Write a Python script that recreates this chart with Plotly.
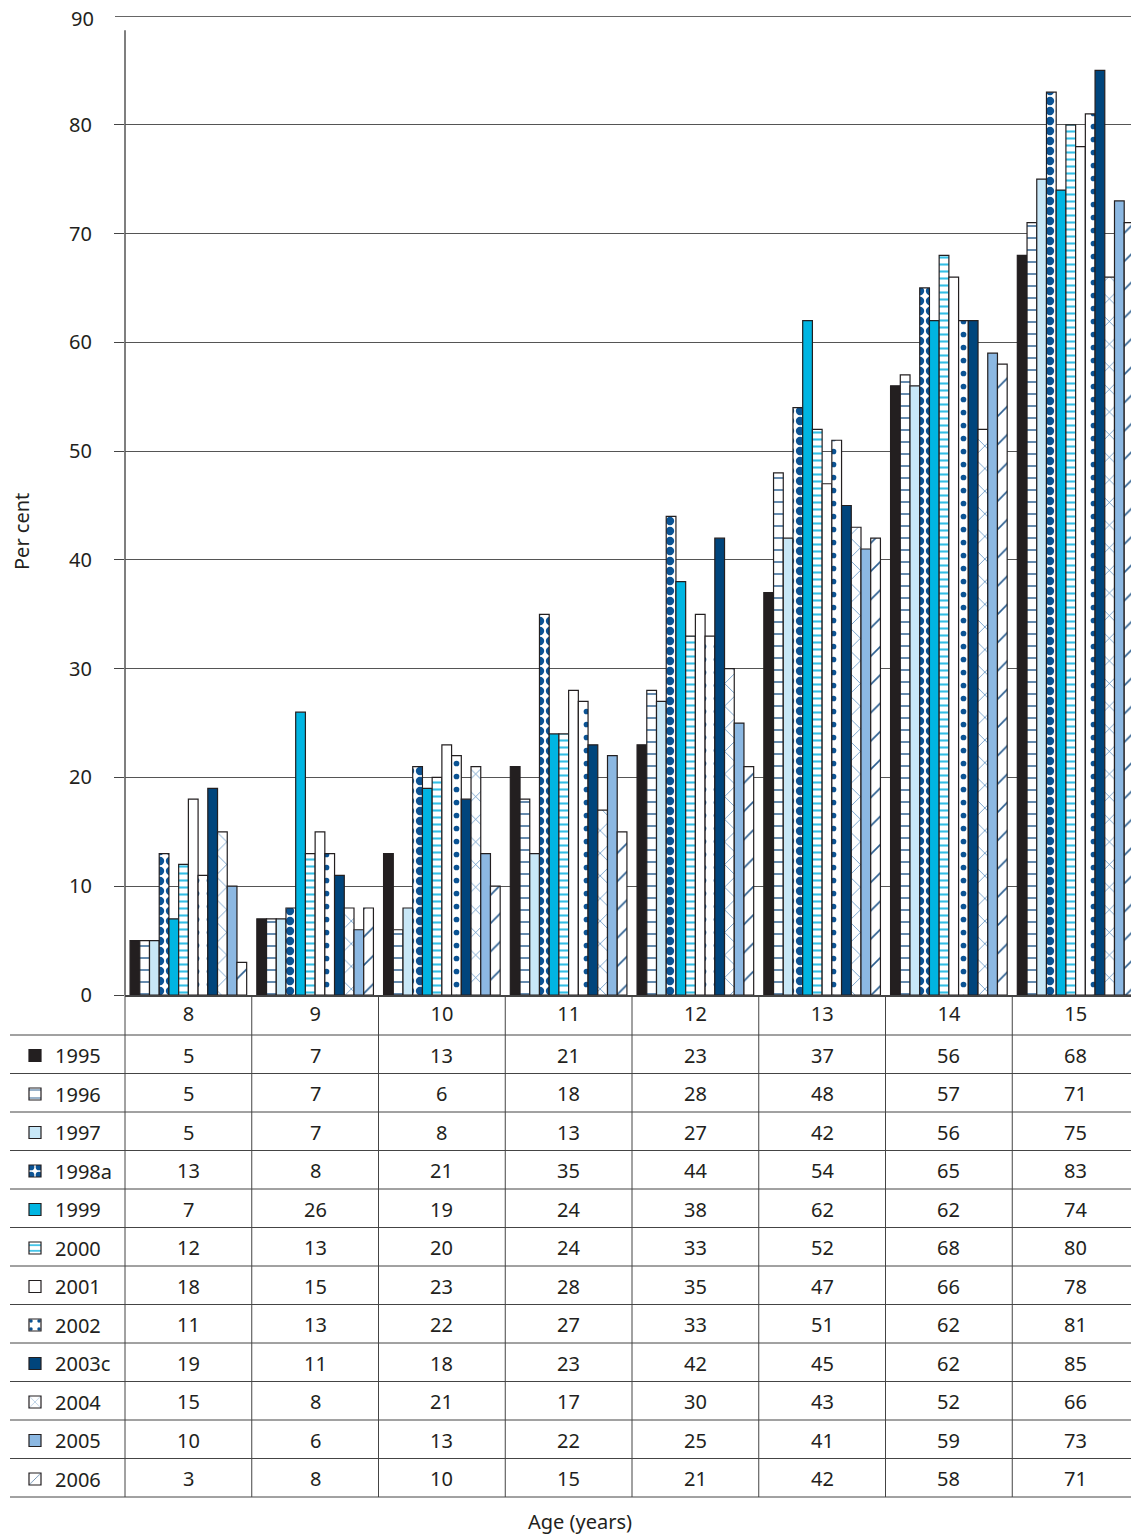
import plotly.graph_objects as go

ages = ["8", "9", "10", "11", "12", "13", "14", "15"]
years = ["1995", "1996", "1997", "1998a", "1999", "2000", "2001", "2002", "2003c", "2004", "2005", "2006"]
v1995 = [5, 7, 13, 21, 23, 37, 56, 68]
v1996 = [5, 7, 6, 18, 28, 48, 57, 71]
v1997 = [5, 7, 8, 13, 27, 42, 56, 75]
v1998a = [13, 8, 21, 35, 44, 54, 65, 83]
v1999 = [7, 26, 19, 24, 38, 62, 62, 74]
v2000 = [12, 13, 20, 24, 33, 52, 68, 80]
v2001 = [18, 15, 23, 28, 35, 47, 66, 78]
v2002 = [11, 13, 22, 27, 33, 51, 62, 81]
v2003c = [19, 11, 18, 23, 42, 45, 62, 85]
v2004 = [15, 8, 21, 17, 30, 43, 52, 66]
v2005 = [10, 6, 13, 22, 25, 41, 59, 73]
v2006 = [3, 8, 10, 15, 21, 42, 58, 71]
series = [v1995, v1996, v1997, v1998a, v1999, v2000, v2001, v2002, v2003c, v2004, v2005, v2006]
yticks = [0, 10, 20, 30, 40, 50, 60, 70, 80]
ytop = 90

# styles: (color, pattern shape, fgcolor, size, solidity)
styles = [
    ("#231f20", "", None, None, None),
    ("#ffffff", "-", "#2a5d8f", 12, 0.12),
    ("#c8e7f7", "", None, None, None),
    ("#ffffff", ".", "#0b5394", 10, 0.55),
    ("#00b5e2", "", None, None, None),
    ("#ffffff", "-", "#33bfe6", 7, 0.3),
    ("#ffffff", "", None, None, None),
    ("#ffffff", ".", "#0b5394", 13, 0.15),
    ("#00457c", "", None, None, None),
    ("#ffffff", "x", "#3a78b5", 16, 0.08),
    ("#8cb8e2", "", None, None, None),
    ("#ffffff", "/", "#2a5d8f", 20, 0.08),
]

FONT = "Noto Sans"
OFF = 8  # page body margin
W, H = 1139 - OFF, 1535 - OFF
L, T = 125 - OFF, 16 - OFF
BOT = 995 - OFF  # plot bottom in figure px
B = H - BOT
PH = BOT - T
PW = W - L


def pyp(p):
    # reference page pixel y -> paper y
    return (995 - p) / PH


def pxp(p):
    # reference page pixel x -> paper x
    return (p - 125) / PW


fig = go.Figure()
for name, vals, st in zip(years, series, styles):
    color, shape, fg, size, sol = st
    marker = dict(color=color, line=dict(color="#231f20", width=1.2))
    if shape:
        marker["pattern"] = dict(shape=shape, fgcolor=fg, bgcolor="#ffffff", size=size,
                                 solidity=sol, fillmode="replace")
    fig.add_trace(go.Bar(name=name, x=ages, y=vals, marker=marker, legendgroup=name))

shapes = []
# left axis line
shapes.append(dict(type="line", xref="paper", yref="y", x0=0, x1=0, y0=0, y1=88.7,
                   line=dict(color="#555555", width=1.5)))
# top gridline (90)
shapes.append(dict(type="line", xref="paper", yref="y", x0=pxp(115), x1=1, y0=ytop, y1=ytop,
                   line=dict(color="#333333", width=1.5)))
# table horizontal lines
row_top = 1035
row_h = 38.5
for k in range(13):
    yy = pyp(row_top + k * row_h)
    shapes.append(dict(type="line", xref="paper", yref="paper", x0=pxp(10), x1=1, y0=yy, y1=yy,
                       line=dict(color="#444444", width=1)))
# table vertical lines
n = len(ages)
for i in range(n):
    shapes.append(dict(type="line", xref="paper", yref="paper", x0=i / n, x1=i / n,
                       y0=pyp(995), y1=pyp(row_top + 12 * row_h),
                       line=dict(color="#444444", width=1)))

annotations = []
for r, vals in enumerate(series):
    yc = pyp(row_top + r * row_h + row_h / 2 + 1)
    for i, v in enumerate(vals):
        annotations.append(dict(x=(i + 0.5) / n, y=yc, xref="paper", yref="paper", text=str(v),
                                showarrow=False, yanchor="middle", xanchor="center",
                                font=dict(family=FONT, size=20, color="#231f20")))
annotations.append(dict(x=pxp(580), y=pyp(1522), xref="paper", yref="paper", text="Age (years)",
                        showarrow=False, yanchor="middle", xanchor="center",
                        font=dict(family=FONT, size=20, color="#231f20")))
annotations.append(dict(x=pxp(21), y=pyp(532), xref="paper", yref="paper", text="Per cent",
                        showarrow=False, yanchor="middle", xanchor="center", textangle=-90,
                        font=dict(family=FONT, size=20, color="#231f20")))
# top tick label (90)
annotations.append(dict(x=pxp(95), y=ytop, xref="paper", yref="y", text=str(ytop),
                        showarrow=False, yanchor="top", xanchor="right", yshift=12,
                        borderpad=0,
                        font=dict(family=FONT, size=20, color="#231f20")))

fig.update_layout(
    width=W, height=H,
    margin=dict(l=L, r=0, t=T, b=B, pad=0),
    paper_bgcolor="white", plot_bgcolor="white",
    barmode="group", bargap=0.08, bargroupgap=0,
    font=dict(family=FONT, size=20, color="#231f20"),
    showlegend=True,
    legend=dict(x=pxp(15), y=pyp(1036), xanchor="left", yanchor="top", xref="paper", yref="paper",
                traceorder="grouped", tracegroupgap=9.5, bgcolor="rgba(0,0,0,0)",
                font=dict(family=FONT, size=20, color="#231f20"), itemwidth=30),
    shapes=shapes,
    annotations=annotations,
)
fig.update_yaxes(range=[0, ytop], tickvals=yticks, showgrid=True, gridcolor="#555555", gridwidth=1,
                 ticks="outside", ticklen=10, tickcolor="#444444", showline=False,
                 zeroline=False, tickfont=dict(family=FONT, size=20), ticklabelstandoff=18)
fig.update_xaxes(type="category", range=[-0.5, 7.5], showline=True, linecolor="#444444",
                 linewidth=1.5, ticks="", showgrid=False, tickfont=dict(family=FONT, size=20))

fig.write_html("out.html")
